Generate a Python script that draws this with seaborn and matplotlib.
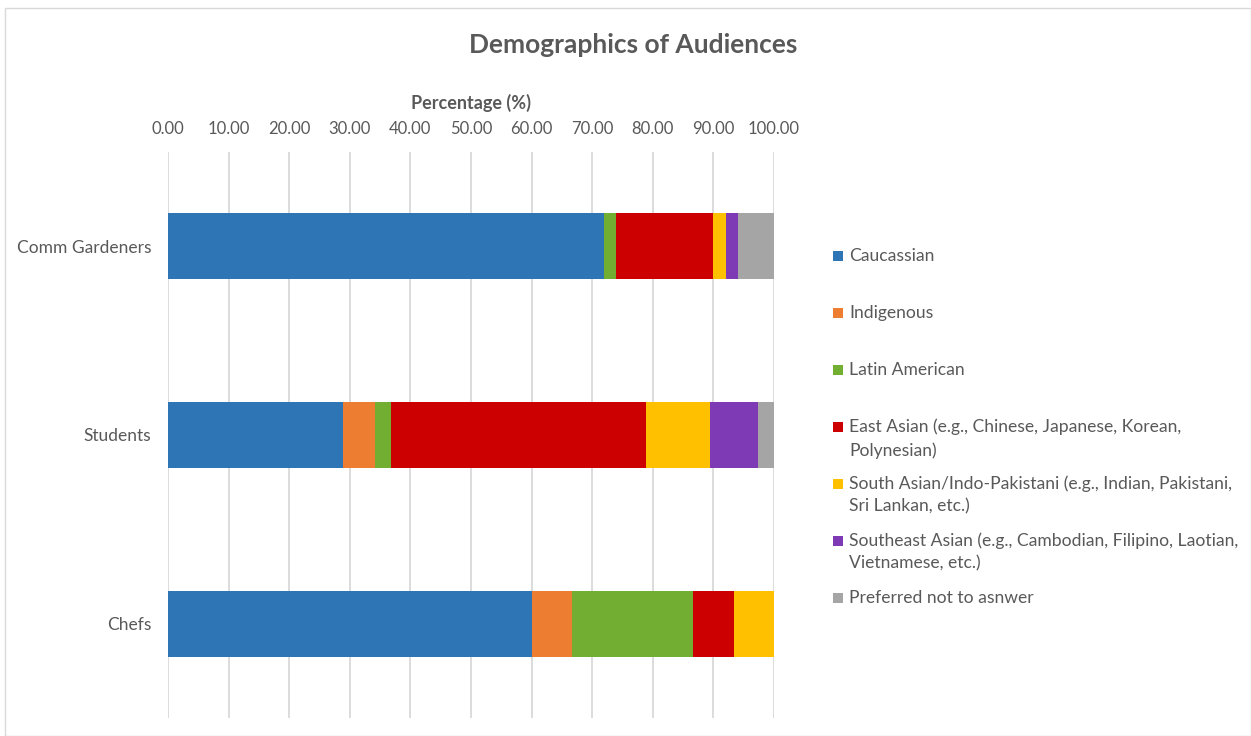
import numpy as np
import pandas as pd
import seaborn as sns
import matplotlib.pyplot as plt
from matplotlib.patches import Rectangle
from matplotlib.ticker import FuncFormatter

# chart data (percent of each audience)
groups = ['Comm Gardeners', 'Students', 'Chefs']
caucasian = [72.0, 28.95, 60.0]
indigenous = [0.0, 5.26, 6.67]
latin_american = [2.0, 2.63, 20.0]
east_asian = [16.0, 42.11, 6.67]
south_asian = [2.0, 10.53, 6.67]
southeast_asian = [2.0, 7.89, 0.0]
no_answer = [6.0, 2.63, 0.0]

series_names = [
    'Caucassian',
    'Indigenous',
    'Latin American',
    'East Asian (e.g., Chinese, Japanese, Korean,\nPolynesian)',
    'South Asian/Indo-Pakistani (e.g., Indian, Pakistani,\nSri Lankan, etc.)',
    'Southeast Asian (e.g., Cambodian, Filipino, Laotian,\nVietnamese, etc.)',
    'Preferred not to asnwer',
]
series_values = [caucasian, indigenous, latin_american, east_asian,
                 south_asian, southeast_asian, no_answer]
colors = ['#2E75B6', '#ED7D31', '#72AE32', '#CC0000', '#FFC000', '#7E3AB5', '#A5A5A5']

TEXT = '#595959'

sns.set_style('white')
plt.rcParams['font.family'] = ['Lato', 'DejaVu Sans']

fig = plt.figure(figsize=(12.51, 7.36), dpi=100)
ax = fig.add_axes([0.1343, 0.0245, 0.4844, 0.769])

# stacked bars: draw cumulative totals from the last series back to the first
df = pd.DataFrame(dict(zip(series_names, series_values)), index=groups)
cum = df.cumsum(axis=1)
for name, col in reversed(list(zip(series_names, colors))):
    sns.barplot(x=cum[name].values, y=groups, color=col, saturation=1,
                width=0.35, orient='h', linewidth=0, legend=False, ax=ax)

ax.set_xlim(0, 100)
ax.set_xticks(np.arange(0, 101, 10))
ax.xaxis.set_major_formatter(FuncFormatter(lambda v, p: f'{v:.2f}'))
ax.xaxis.tick_top()
ax.xaxis.set_label_position('top')
ax.set_xlabel('Percentage (%)', fontsize=13, fontweight='bold', color=TEXT, labelpad=9)
ax.set_ylabel('')
ax.tick_params(axis='x', length=0, pad=10.5, labelsize=12, labelcolor=TEXT)
ax.tick_params(axis='y', length=0, pad=12, labelsize=12.5, labelcolor=TEXT)
ax.grid(axis='x', color='#D9D9D9', linewidth=1.3)
ax.grid(axis='y', visible=False)
ax.set_axisbelow(True)
for s in ax.spines.values():
    s.set_visible(False)

fig.suptitle('Demographics of Audiences', x=0.506, y=0.955, fontsize=19,
             fontweight='bold', color=TEXT)

# legend with fixed slots like the original
W, H = 1251, 736
slot_y = [256, 313, 370, 427, 484, 541, 598]
for name, col, yp in zip(series_names, colors, slot_y):
    fig.add_artist(Rectangle((833 / W, 1 - (yp + 5) / H), 10 / W, 10 / H,
                             transform=fig.transFigure, color=col, lw=0))
    if '\n' in name:
        fig.text(849 / W, 1 - (yp - 9) / H, name, fontsize=12.6, color=TEXT,
                 va='top', ha='left', linespacing=1.55)
    else:
        fig.text(849 / W, 1 - yp / H, name, fontsize=12.6, color=TEXT,
                 va='center', ha='left')

# chart border
fig.add_artist(Rectangle((5 / W, 0), 1 - 5 / W, 1 - 8 / H, transform=fig.transFigure,
                         fill=False, edgecolor='#D9D9D9', lw=1))

fig.savefig('out.png', dpi=100)
